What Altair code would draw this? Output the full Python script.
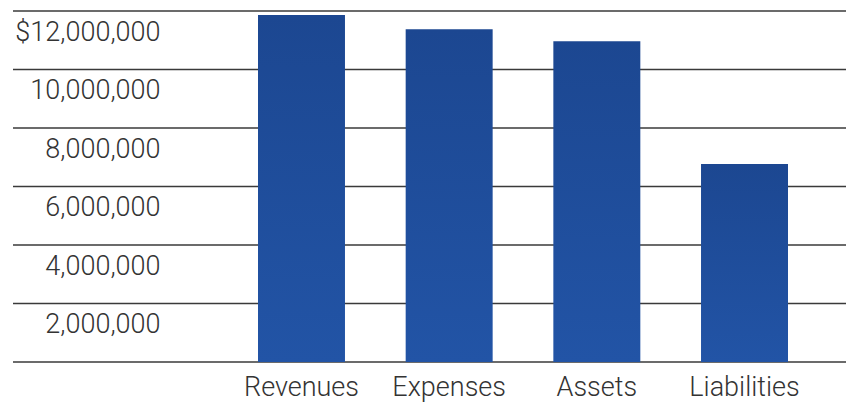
import altair as alt
import pandas as pd

categories = ["Revenues", "Expenses", "Assets", "Liabilities"]
values = [11860000, 11380000, 10970000, 6770000]
tick_values = [0, 2000000, 4000000, 6000000, 8000000, 10000000, 12000000]

df = pd.DataFrame({"category": categories, "value": values})
grid_df = pd.DataFrame({"value": tick_values})

FONT = "Roboto"
TXT = "#333333"

y_scale = alt.Scale(domain=[0, 12000000], nice=False)
y_axis = alt.Axis(values=tick_values, ticks=False, domain=False, grid=False,
                  labelExpr="datum.value == 0 ? '' : (datum.value == 12000000 ? '$12,000,000' : format(datum.value, ','))",
                  labelFont=FONT, labelFontSize=27, labelFontWeight=300, labelColor=TXT,
                  labelAlign="right", labelBaseline="middle",
                  labelPadding=-147, labelOffset=21,
                  labelFlush=False, labelOverlap=False)

grid = alt.Chart(grid_df).mark_rule(color="#3a3a3a", strokeWidth=1.6).encode(
    y=alt.Y("value:Q", scale=y_scale, title=None, axis=y_axis),
)

bars = alt.Chart(df).mark_bar(
    color=alt.Gradient(
        gradient="linear",
        stops=[alt.GradientStop(color="#1c4791", offset=0),
               alt.GradientStop(color="#2254a6", offset=1)],
        x1=0, x2=0, y1=0, y2=1,
    ),
    cornerRadius=0,
).encode(
    x=alt.X("category:N", sort=categories, title=None,
            scale=alt.Scale(paddingInner=0.411, paddingOuter=0, range=[245, 775]),
            axis=alt.Axis(labelAngle=0, ticks=False, domain=False, grid=False,
                          labelFont=FONT, labelFontSize=27, labelFontWeight=300, labelColor=TXT,
                          labelPadding=12, labelBaseline="top")),
    y=alt.Y("value:Q", title=None, scale=y_scale, axis=y_axis),
)

chart = alt.layer(grid, bars).properties(
    width=833, height=351,
    background="white",
    autosize=alt.AutoSizeParams(type="none"),
    padding={"left": 13, "top": 11, "right": 7, "bottom": 40},
).configure_view(stroke=None)

chart.save("out.html", embed_options={"renderer": "svg", "actions": False})
